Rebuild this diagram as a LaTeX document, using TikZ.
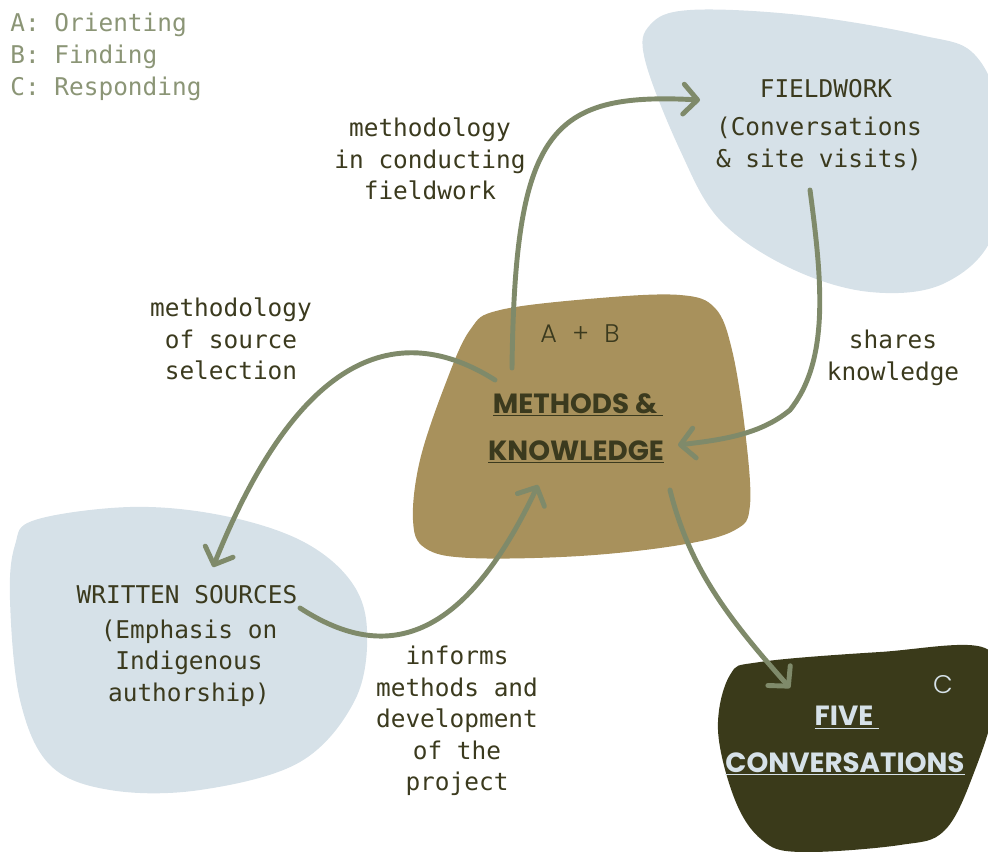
\documentclass[tikz,border=0pt]{standalone}
\usepackage{fontspec}
\setmonofont{DejaVu Sans Mono}
\newfontfamily\geo{Poppins}
\newfontfamily\geolight{Poppins Light}
\usetikzlibrary{arrows.meta}
\definecolor{skyblob}{HTML}{D6E1E8}
\definecolor{tanblob}{HTML}{A8915C}
\definecolor{darkblob}{HTML}{3A3A1A}
\definecolor{linkgreen}{HTML}{7F8A6A}
\definecolor{inktext}{HTML}{3B3A1E}
\definecolor{legendtext}{HTML}{8B9576}
\tikzset{
  monolabel/.style={font=\ttfamily\fontsize{13.9}{17.9}\selectfont, text=inktext, align=center, inner sep=0pt},
  legendline/.style={font=\ttfamily\fontsize{13.9}{17.9}\selectfont, text=legendtext, anchor=west, inner sep=0pt},
  titletext/.style={font=\geo\bfseries\fontsize{15.8}{18}\selectfont, align=center, inner sep=0pt},
  tagtext/.style={font=\geolight\fontsize{14.5}{16}\selectfont, inner sep=0pt},
  link/.style={draw=linkgreen, line width=2.8pt, line cap=round,
    -{Straight Barb[length=8pt,width=17pt,line cap=round,line join=round]}},
  blob/.style={smooth cycle, tension=0.6}
}
\begin{document}
\begin{tikzpicture}[x=0.02cm,y=-0.02cm]
\useasboundingbox (0,0) rectangle (988,852);
\clip (0,0) rectangle (988,852);

% background blobs
\fill[skyblob] plot[blob] coordinates {(650,25) (690,10) (800,15) (920,35) (975,55) (1000,120) (995,230) (945,283) (870,292) (790,268) (720,220) (680,150) (645,60)};
\fill[skyblob] plot[blob] coordinates {(35,520) (130,507) (220,515) (300,540) (350,580) (367,630) (355,700) (300,762) (200,790) (110,790) (50,765) (20,700) (10,600) (15,545)};
\fill[tanblob] plot[blob] coordinates {(500,310) (600,298) (680,295) (715,308) (732,350) (745,430) (750,505) (735,530) (680,545) (580,556) (470,558) (425,548) (413,520) (420,460) (445,385) (470,330)};
\fill[darkblob] plot[blob] coordinates {(730,675) (760,662) (880,652) (985,648) (995,700) (975,770) (945,830) (900,845) (800,852) (762,840) (735,800) (718,730)};

% legend
\node[legendline] (legA) at (10,25) {A: Orienting};
\node[legendline] (legB) at (10,57) {B: Finding};
\node[legendline] (legC) at (10,89) {C: Responding};

% main nodes
\node[monolabel] (field) at (826,89) {FIELDWORK};
\node[monolabel] (fieldsub) at (819,144) {(Conversations\\\& site visits)};
\node[monolabel] (written) at (187,595) {WRITTEN SOURCES};
\node[monolabel] (writtensub) at (189,663) {(Emphasis on\\Indigenous\\authorship)};

\node[tagtext, text=inktext] (tagab) at (580,334) {A\hspace{0.6em}+\hspace{0.6em}B};
\node[titletext, text=inktext] (methods) at (578,405) {\underline{METHODS \&\ }};
\node[titletext, text=inktext] (knowledge) at (576,452) {\underline{KNOWLEDGE}};

\node[tagtext, text=skyblob] (tagc) at (943,685) {C};
\node[titletext, text=skyblob] (five) at (847,718) {\underline{FIVE\ }};
\node[titletext, text=skyblob] (convs) at (845,764) {\underline{CONVERSATIONS}};

% connector labels
\node[monolabel] (lab1) at (430,159) {methodology\\in conducting\\fieldwork};
\node[monolabel] (lab2) at (231,339) {methodology\\of source\\selection};
\node[monolabel] (lab3) at (893,358) {shares\\knowledge};
\node[monolabel] (lab4) at (457,721) {informs\\methods and\\development\\of the\\project};

% connector end points
\coordinate (mkTop) at (512,368);
\coordinate (fwIn) at (700,100);
\coordinate (fwOut) at (810,190);
\coordinate (mkRight) at (678,445);
\coordinate (mkLeft) at (495,380);
\coordinate (wsIn) at (213,567);
\coordinate (wsOut) at (300,608);
\coordinate (mkBottom) at (538,485);
\coordinate (mkOut) at (670,490);
\coordinate (fcIn) at (790,688);

% connectors
\draw[link] (mkTop) .. controls (515,130) and (550,92) .. (fwIn);
\draw[link] (fwOut) .. controls (822,280) and (830,360) .. (790,410) .. controls (760,435) and (720,440) .. (mkRight);
\draw[link] (mkLeft) .. controls (400,320) and (300,350) .. (wsIn);
\draw[link] (wsOut) .. controls (380,660) and (460,650) .. (mkBottom);
\draw[link] (mkOut) .. controls (690,570) and (730,620) .. (fcIn);
\end{tikzpicture}
\end{document}
